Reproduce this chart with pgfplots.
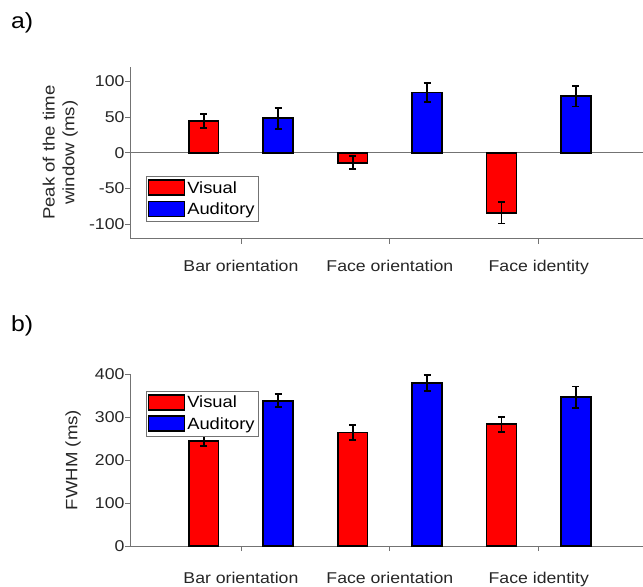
\documentclass[border=0pt]{standalone}
\usepackage{fontspec}
\setmainfont{Liberation Sans}[FakeStretch=1.13]
\usepackage{pgfplots}
\usepackage{pgfplotstable}
\pgfplotsset{compat=1.18}
\definecolor{axgray}{gray}{0.45}
\definecolor{barred}{RGB}{255,0,0}
\definecolor{barblue}{RGB}{0,0,255}

\pgfplotstableread{
x vis visE aud audE
1 44 10 48 15
2 -14 9 84 13
3 -84 15 79 14.5
}\peakdata

\pgfplotstableread{
x vis visE aud audE
1 245 12 338 15
2 264 17 379 19
3 283 17 346 25
}\fwhmdata

\pgfplotsset{
  panel/.style={
    scale only axis, width=513bp,
    axis x line*=bottom, axis y line*=left,
    axis line style={axgray, line width=1bp},
    xmin=0.255, xmax=3.7,
    xtick={1,2,3},
    xticklabels={Bar orientation,Face orientation,Face identity},
    xtick align=inside, ytick align=outside,
    major tick length=5bp,
    tick style={axgray, line width=0.8bp},
    tick label style={font=\fontsize{15.7}{18}\selectfont, text=black!85},
    yticklabel style={xshift=3bp},
    /pgf/number format/assume math mode=true,
    ybar, bar width=0.2,
    ylabel style={anchor=center, font=\fontsize{16.5}{20}\selectfont, align=center, text=black!85},
    legend style={anchor=north west, draw=axgray, fill=white,
      font=\fontsize{16.3}{18}\selectfont, inner xsep=1.5bp, inner ysep=3bp, row sep=4bp,
      cells={anchor=west}, legend columns=1},
  },
  mybar/.style={draw=black, line width=1.7bp,
    legend image code/.code={\draw[##1, draw=black, line width=1.7bp] (0bp,-7bp) rectangle (36bp,8bp);},
    error bars/y dir=both, error bars/y explicit,
    error bars/error bar style={black, line width=1.8bp},
    error bars/error mark options={rotate=90, mark size=3.5bp, black, line width=1.8bp}},
}

\begin{document}
\begin{tikzpicture}
\useasboundingbox (0,0) rectangle (643bp,-587bp);
\node[anchor=west, font=\fontsize{22}{24}\selectfont, inner sep=0pt] at (11bp,-23bp) {a)};
\node[anchor=west, font=\fontsize{22}{24}\selectfont, inner sep=0pt] at (11bp,-326bp) {b)};

\begin{axis}[panel, at={(130bp,-238.6bp)}, anchor=south west,
  height=171.8bp, ymin=-120, ymax=120, ytick={-100,-50,0,50,100},
  ylabel={Peak of the time\\window (ms)},
  ylabel style={at={(rel axis cs:-0.136,0.5)}},
  xticklabel style={yshift=-13bp},
  legend style={at={(rel axis cs:0.031,0.364)}},
]
\draw[axgray, line width=1bp] (rel axis cs:0,0.5) -- (rel axis cs:1,0.5);
\addplot[mybar, fill=barred, bar shift=-0.25] table[x=x, y=vis, y error=visE] {\peakdata};
\addlegendentry{Visual}
\addplot[mybar, fill=barblue, bar shift=0.25] table[x=x, y=aud, y error=audE] {\peakdata};
\addlegendentry{Auditory}
\end{axis}

\begin{axis}[panel, at={(130bp,-546bp)}, anchor=south west,
  height=172bp, ymin=0, ymax=400, ytick={0,100,200,300,400},
  ylabel={FWHM (ms)},
  ylabel style={at={(rel axis cs:-0.111,0.5)}},
  xticklabel style={yshift=-18bp},
  legend style={at={(rel axis cs:0.031,0.903)}},
]
\addplot[mybar, fill=barred, bar shift=-0.25] table[x=x, y=vis, y error=visE] {\fwhmdata};
\addlegendentry{Visual}
\addplot[mybar, fill=barblue, bar shift=0.25] table[x=x, y=aud, y error=audE] {\fwhmdata};
\addlegendentry{Auditory}
\end{axis}
\end{tikzpicture}
\end{document}
